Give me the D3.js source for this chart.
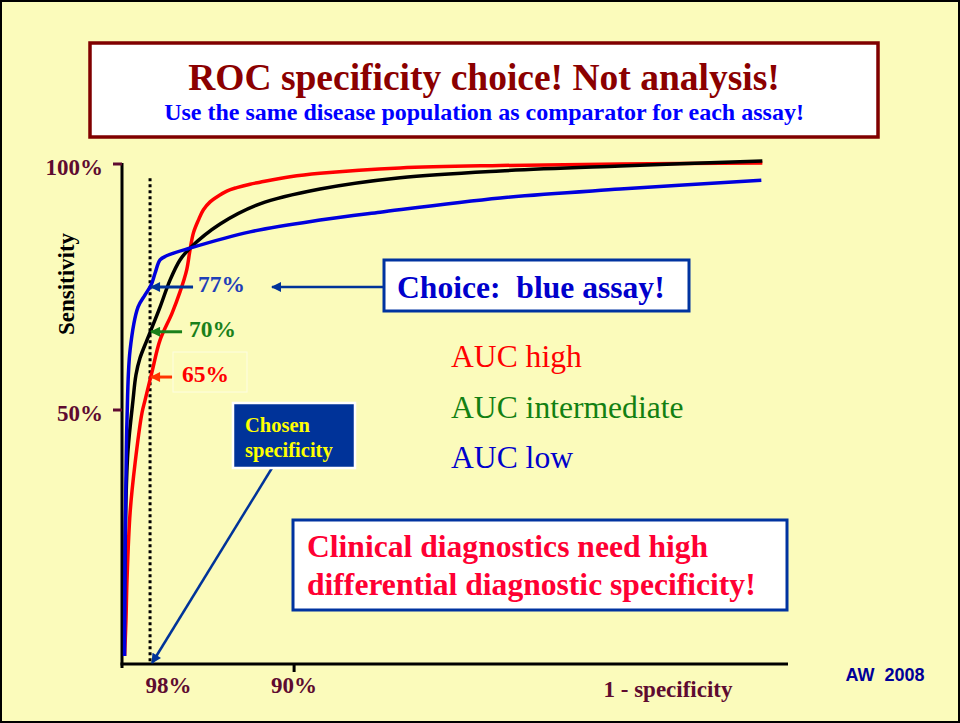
<html>
<script src="https://d3js.org/d3.v7.min.js"></script>
<body style="margin:0">
</body>
<script>
    // values: x = 1 - specificity (%), y = sensitivity (%)
    let redFpr   = [0.15, 0.23, 0.29, 0.47, 0.76, 1.16, 1.34, 1.74, 2.21, 2.91, 3.37, 3.76, 3.95, 4.15, 4.44, 4.73, 5.12, 5.51, 6.09, 6.67, 7.44, 8.02, 9.77, 11.51, 16.16, 21.98, 28.95, 37.21];
    let redSens  = [0, 7.3, 15.4, 29.1, 39.2, 49.4, 52.0, 57.7, 64.2, 69.7, 74.0, 78.5, 82.5, 86.0, 88.6, 90.7, 92.3, 93.3, 94.5, 95.2, 95.9, 96.3, 97.4, 98.1, 99.2, 99.7, 100, 100.2];
    let blackFpr  = [0.12, 0.23, 0.35, 0.64, 0.81, 1.05, 1.45, 1.69, 2.21, 2.79, 3.37, 3.95, 5.70, 8.02, 11.51, 16.16, 21.98, 28.95, 37.21];
    let blackSens = [0, 31.7, 41.9, 52.0, 57.1, 60.6, 64.2, 66.3, 70.9, 76.4, 80.5, 82.9, 87.8, 91.9, 94.9, 97.2, 98.6, 99.6, 100.6];
    let blueFpr  = [0.15, 0.17, 0.23, 0.29, 0.47, 0.93, 1.34, 1.69, 1.92, 2.21, 2.56, 3.95, 7.44, 11.51, 15.0, 21.98, 28.95, 37.15];
    let blueSens = [0, 19.5, 35.8, 48.0, 62.2, 70.9, 73.4, 75.4, 77.8, 80.5, 81.3, 82.9, 86.2, 88.6, 90.2, 93.1, 94.9, 96.7];

    let seriesColors = ["#ff0000", "#000000", "#0000dd"];

    let yTicks = [100, 50];
    let yTickLabels = ["100%", "50%"];
    let xTicks = [2.7, 10];
    let xTickLabels = ["98%", "90%"];
    let xTickMarks = [10];

    // chosen specificity and where each curve meets it
    let chosenFpr = 1.63;
    let hitSens = [75.0, 65.9, 56.7];
    let hitLabels = ["77%", "70%", "65%"];
    let hitArrowColors = ["#003399", "#1a801a", "#ff3300"];
    let hitTextColors = ["#1f3fb8", "#1a801a", "#ff0000"];

    let aucLabels = ["AUC high", "AUC intermediate", "AUC low"];
    let aucColors = ["#ff0000", "#128012", "#0000cc"];

    let width = 960;
    let height = 723;
    let serif = "'Liberation Serif', 'Times New Roman', serif";
    let maroon = "#5e0b30";

    let svg = d3.select("body").append("svg")
        .attr("width", width)
        .attr("height", height);

    // slide background
    svg.append("rect")
        .attr("x", 1).attr("y", 1)
        .attr("width", width - 2).attr("height", height - 2)
        .attr("fill", "#fbfbbb")
        .attr("stroke", "black")
        .attr("stroke-width", 2);

    // arrow heads
    let defs = svg.append("defs");
    ["#003399", "#1a801a", "#ff3300"].forEach((c, i) => {
        defs.append("marker")
            .attr("id", "head" + i)
            .attr("viewBox", "0 0 10 10")
            .attr("refX", 9).attr("refY", 5)
            .attr("markerWidth", 11).attr("markerHeight", 10)
            .attr("markerUnits", "userSpaceOnUse")
            .attr("orient", "auto")
            .append("path")
            .attr("d", "M0,0 L10,5 L0,10 Z")
            .attr("fill", c);
    });

    // title box
    svg.append("rect")
        .attr("x", 90).attr("y", 43)
        .attr("width", 788).attr("height", 94)
        .attr("fill", "white")
        .attr("stroke", "#800000")
        .attr("stroke-width", 3.5);
    svg.append("text")
        .attr("x", 484).attr("y", 90)
        .attr("text-anchor", "middle")
        .attr("font-family", serif).attr("font-weight", "bold")
        .attr("font-size", 37.5)
        .attr("fill", "#8b0000")
        .text("ROC specificity choice! Not analysis!");
    svg.append("text")
        .attr("x", 484).attr("y", 120)
        .attr("text-anchor", "middle")
        .attr("font-family", serif).attr("font-weight", "bold")
        .attr("font-size", 24)
        .attr("fill", "#0000ff")
        .text("Use the same disease population as comparator for each assay!");

    let x = d3.scaleLinear().domain([0, 38.7]).range([122, 788]);
    let y = d3.scaleLinear().domain([0, 100]).range([656, 164]);
    let axisY = y(0) + 8;

    // axes
    svg.append("line")
        .attr("x1", x(0)).attr("y1", y(100) - 1)
        .attr("x2", x(0)).attr("y2", axisY + 4)
        .attr("stroke", "black").attr("stroke-width", 3);
    svg.append("line")
        .attr("x1", x(0) - 1.5).attr("y1", axisY)
        .attr("x2", x.range()[1]).attr("y2", axisY)
        .attr("stroke", "black").attr("stroke-width", 3);

    svg.selectAll(".ytick")
        .data(yTicks)
        .join("line")
        .attr("class", "ytick")
        .attr("x1", x(0) - 9).attr("x2", x(0))
        .attr("y1", d => y(d)).attr("y2", d => y(d))
        .attr("stroke", maroon).attr("stroke-width", 3);
    svg.selectAll(".ylabel")
        .data(yTicks)
        .join("text")
        .attr("class", "ylabel")
        .attr("x", 103)
        .attr("y", d => y(d) + 11)
        .attr("text-anchor", "end")
        .attr("font-family", serif).attr("font-weight", "bold")
        .attr("font-size", 23)
        .attr("fill", maroon)
        .text((d, i) => yTickLabels[i]);

    svg.selectAll(".xtick")
        .data(xTickMarks)
        .join("line")
        .attr("class", "xtick")
        .attr("x1", d => x(d)).attr("x2", d => x(d))
        .attr("y1", axisY).attr("y2", axisY + 8)
        .attr("stroke", "black").attr("stroke-width", 3);
    svg.selectAll(".xlabel")
        .data(xTicks)
        .join("text")
        .attr("class", "xlabel")
        .attr("x", d => x(d))
        .attr("y", 693)
        .attr("text-anchor", "middle")
        .attr("font-family", serif).attr("font-weight", "bold")
        .attr("font-size", 23)
        .attr("fill", maroon)
        .text((d, i) => xTickLabels[i]);

    svg.append("text")
        .attr("x", 668).attr("y", 697)
        .attr("text-anchor", "middle")
        .attr("font-family", serif).attr("font-weight", "bold")
        .attr("font-size", 23)
        .attr("fill", maroon)
        .text("1 - specificity");

    svg.append("text")
        .attr("transform", "translate(74,284) rotate(-90)")
        .attr("text-anchor", "middle")
        .attr("font-family", serif).attr("font-weight", "bold")
        .attr("font-size", 23)
        .attr("fill", "black")
        .text("Sensitivity");

    svg.append("text")
        .attr("x", 885).attr("y", 681)
        .attr("text-anchor", "middle")
        .attr("font-family", "'Liberation Sans', Arial, sans-serif").attr("font-weight", "bold")
        .attr("font-size", 18)
        .attr("fill", "#000099")
        .attr("xml:space", "preserve")
        .text("AW  2008");

    // chosen specificity (dotted)
    svg.append("line")
        .attr("x1", x(chosenFpr)).attr("x2", x(chosenFpr))
        .attr("y1", y(97.1)).attr("y2", axisY)
        .attr("stroke", "black")
        .attr("stroke-width", 3)
        .attr("stroke-dasharray", "3,3");

    // ROC curves
    let line = d3.line()
        .x(d => x(d[0]))
        .y(d => y(d[1]))
        .curve(d3.curveCatmullRom.alpha(0.5));
    let curves = [
        d3.zip(redFpr, redSens),
        d3.zip(blackFpr, blackSens),
        d3.zip(blueFpr, blueSens)
    ];
    svg.selectAll(".roc")
        .data(curves)
        .join("path")
        .attr("class", "roc")
        .attr("d", line)
        .attr("fill", "none")
        .attr("stroke", (d, i) => seriesColors[i])
        .attr("stroke-width", 3.5)
        .attr("stroke-linejoin", "round");

    // sensitivities at the chosen specificity
    let arrowLen = [42, 31, 21];
    let labelGap = [5, 7, 10];
    svg.append("rect")
        .attr("x", 173).attr("y", y(hitSens[2]) - 25)
        .attr("width", 74).attr("height", 40)
        .attr("fill", "none")
        .attr("stroke", "#fdfde2").attr("stroke-width", 1);
    svg.selectAll(".hitarrow")
        .data(hitSens)
        .join("line")
        .attr("class", "hitarrow")
        .attr("x1", (d, i) => x(chosenFpr) + 1 + arrowLen[i])
        .attr("x2", x(chosenFpr) + 1)
        .attr("y1", d => y(d)).attr("y2", d => y(d))
        .attr("stroke", (d, i) => hitArrowColors[i])
        .attr("stroke-width", 3)
        .attr("marker-end", (d, i) => "url(#head" + i + ")");
    svg.selectAll(".hitlabel")
        .data(hitSens)
        .join("text")
        .attr("class", "hitlabel")
        .attr("x", (d, i) => x(chosenFpr) + 1 + arrowLen[i] + labelGap[i])
        .attr("y", d => y(d) + 5)
        .attr("font-family", serif).attr("font-weight", "bold")
        .attr("font-size", 23.5)
        .attr("fill", (d, i) => hitTextColors[i])
        .text((d, i) => hitLabels[i]);

    // choice callout
    svg.append("line")
        .attr("x1", 384).attr("x2", 272)
        .attr("y1", y(hitSens[0])).attr("y2", y(hitSens[0]))
        .attr("stroke", "#003399").attr("stroke-width", 2.5)
        .attr("marker-end", "url(#head0)");
    svg.append("rect")
        .attr("x", 384).attr("y", 260)
        .attr("width", 305).attr("height", 51)
        .attr("fill", "white")
        .attr("stroke", "#0033a0").attr("stroke-width", 3);
    svg.append("text")
        .attr("x", 397).attr("y", 298)
        .attr("font-family", serif).attr("font-weight", "bold")
        .attr("font-size", 31.6)
        .attr("fill", "#0000cc")
        .attr("xml:space", "preserve")
        .text("Choice:  blue assay!");

    // AUC legend
    svg.selectAll(".auc")
        .data(aucLabels)
        .join("text")
        .attr("class", "auc")
        .attr("x", 451)
        .attr("y", (d, i) => 367 + i * 50.5)
        .attr("font-family", serif)
        .attr("font-size", 31.6)
        .attr("fill", (d, i) => aucColors[i])
        .text(d => d);

    // chosen specificity callout
    svg.append("line")
        .attr("x1", 272).attr("y1", 468)
        .attr("x2", x(chosenFpr) + 2).attr("y2", axisY - 1)
        .attr("stroke", "#003399").attr("stroke-width", 2.5)
        .attr("marker-end", "url(#head0)");
    svg.append("rect")
        .attr("x", 233).attr("y", 403)
        .attr("width", 122).attr("height", 65)
        .attr("fill", "#003399")
        .attr("stroke", "white").attr("stroke-width", 2.5);
    svg.selectAll(".chosen")
        .data(["Chosen", "specificity"])
        .join("text")
        .attr("class", "chosen")
        .attr("x", 245)
        .attr("y", (d, i) => 432 + i * 25)
        .attr("font-family", serif).attr("font-weight", "bold")
        .attr("font-size", 20.5)
        .attr("fill", "#ffff00")
        .text(d => d);

    // clinical diagnostics box
    svg.append("rect")
        .attr("x", 293).attr("y", 520)
        .attr("width", 494).attr("height", 90)
        .attr("fill", "white")
        .attr("stroke", "#0033a0").attr("stroke-width", 3);
    svg.selectAll(".clinical")
        .data(["Clinical diagnostics need high", "differential diagnostic specificity!"])
        .join("text")
        .attr("class", "clinical")
        .attr("x", 307)
        .attr("y", (d, i) => 557 + i * 38)
        .attr("font-family", serif).attr("font-weight", "bold")
        .attr("font-size", 31.6)
        .attr("fill", "#ff0033")
        .text(d => d);
</script>
</html>
